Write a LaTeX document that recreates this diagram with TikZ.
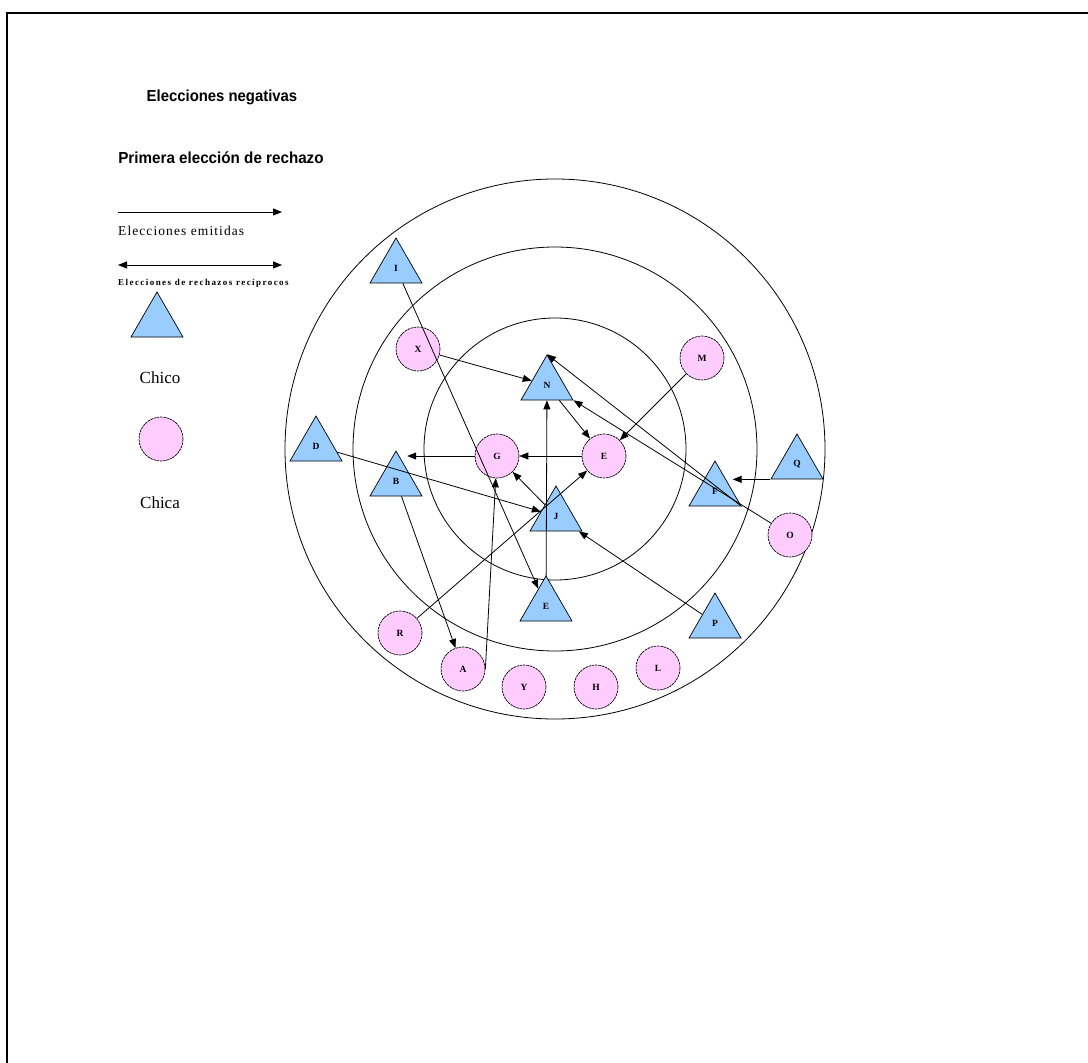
\documentclass[tikz,border=0pt]{standalone}
\usepackage{fontspec}
\setmainfont{Liberation Serif}
\newfontfamily\headfont{Liberation Sans}
\usetikzlibrary{shapes.geometric,arrows.meta}

\begin{document}
\begin{tikzpicture}[x=1pt,y=-1pt,
    every node/.style={inner sep=0pt},
    chico/.style={draw,regular polygon,regular polygon sides=3,minimum size=60pt,fill=color1,line width=0.7pt,font=\fontsize{9.5}{10}\selectfont\bfseries},
    chica/.style={draw,circle,minimum size=44pt,fill=color2,line width=0.7pt,dash pattern=on 2.5pt off 0.8pt,font=\fontsize{9.5}{10}\selectfont\bfseries},
    eleccion/.style={-{Triangle[length=9pt,width=7pt]},line width=0.8pt},
    anillo/.style={line width=0.8pt}
  ]

  \definecolor{color1}{HTML}{99CCFF}
  \definecolor{color2}{HTML}{FFCCFF}

  \useasboundingbox (0,0) rectangle (1088,1063);
  \draw[line width=2pt] (7,1063) -- (7,13) -- (1088,13);

  % legend
  \node (titulo)  at (222,97)  {\scalebox{0.93}[1]{\headfont\bfseries\fontsize{16}{18}\selectfont Elecciones negativas}};
  \node (primera) at (221,158) {\scalebox{0.95}[1]{\headfont\bfseries\fontsize{16}{18}\selectfont Primera elección de rechazo}};

  \coordinate (emit1) at (118,212);
  \coordinate (emit2) at (282,212);
  \draw[eleccion] (emit1) -- (emit2);
  \node[anchor=west] (emitidas) at (118,231) {\fontsize{13.5}{15}\selectfont\addfontfeature{LetterSpace=8}Elecciones emitidas};

  \coordinate (rec1) at (118,265);
  \coordinate (rec2) at (282,265);
  \draw[eleccion,{Triangle[length=9pt,width=7pt]}-{Triangle[length=9pt,width=7pt]}] (rec1) -- (rec2);
  \node[anchor=west] (reciprocos) at (118,283) {\fontsize{9}{10}\selectfont\bfseries\addfontfeature{LetterSpace=16}Elecciones de rechazos recíprocos};

  \node[chico] (leychico) at (157,322) {};
  \node (txtchico) at (160,378) {\fontsize{17}{19}\selectfont Chico};
  \node[chica] (leychica) at (161,439) {};
  \node (txtchica) at (160,503) {\fontsize{17}{19}\selectfont Chica};

  % rings
  \draw[anillo] (555,449) circle[radius=270];
  \draw[anillo] (555,449) circle[radius=202];
  \draw[anillo] (555,449) circle[radius=131];

  % chicos
  \node[chico] (I) at (396,268) {I};
  \node[chico] (N) at (547,385) {N};
  \node[chico] (D) at (316,446) {D};
  \node[chico] (B) at (396,481) {B};
  \node[chico] (J) at (556,516) {J};
  \node[chico] (Et) at (546,606) {E};
  \node[chico] (F) at (715,491) {F};
  \node[chico] (Q) at (797,464) {Q};
  \node[chico] (P) at (715,623) {P};

  % chicas
  \node[chica] (X) at (418,349) {X};
  \node[chica] (M) at (702,358) {M};
  \node[chica] (G) at (497,456) {G};
  \node[chica] (Ec) at (604,456) {E};
  \node[chica] (O) at (790,535) {O};
  \node[chica] (R) at (400,633) {R};
  \node[chica] (A) at (463,669) {A};
  \node[chica] (Y) at (524,687) {Y};
  \node[chica] (H) at (596,687) {H};
  \node[chica] (L) at (658,668) {L};

  % elecciones
  \draw[eleccion] (X) -- (N);
  \draw[eleccion] (I) -- (Et);
  \draw[eleccion] (D) -- (J);
  \draw[eleccion] (G.west) -- (G.west -| B.north east);
  \draw[eleccion] (Ec) -- (G);
  \draw[eleccion] (N) -- (Ec);
  \draw[eleccion] (M) -- (Ec);
  \draw[eleccion] (Et) -- (N);
  \draw[eleccion] (F.corner 3) -- (N.corner 1);
  \draw[eleccion] (O) -- (N.corner 3);
  \draw[eleccion] (Q.corner 2) -- (Q.corner 2 -| F.east);
  \draw[eleccion] (P) -- (J);
  \draw[eleccion] (R) -- (Ec);
  \draw[eleccion] (B) -- (A);
  \draw[eleccion] (A.east) -- (G);
  \draw[eleccion] (J) -- (G);
\end{tikzpicture}
\end{document}
